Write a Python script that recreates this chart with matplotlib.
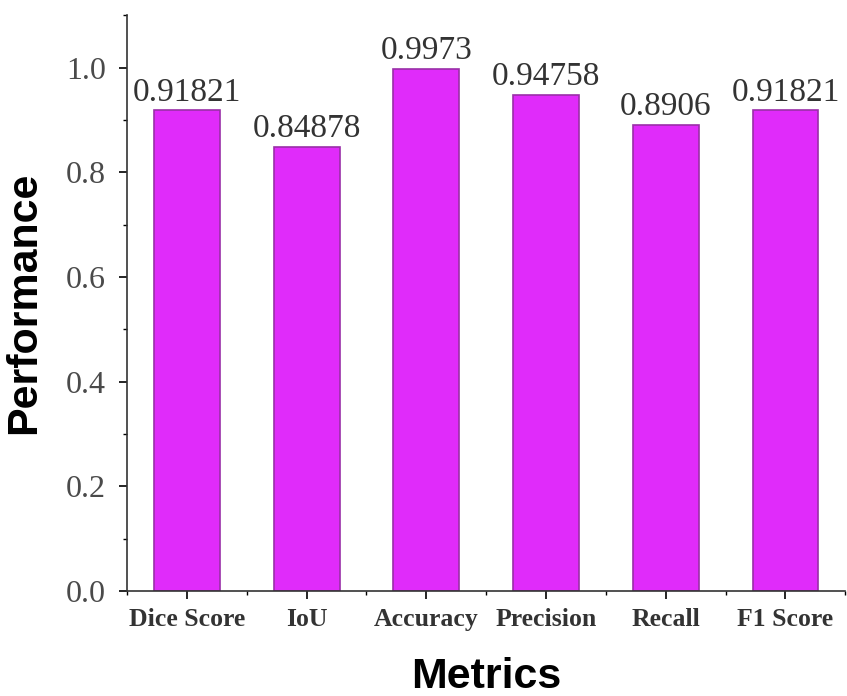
import matplotlib
matplotlib.use("Agg")
import matplotlib.pyplot as plt
from matplotlib.ticker import MultipleLocator, FixedLocator

# chart data
metrics = ["Dice Score", "IoU", "Accuracy", "Precision", "Recall", "F1 Score"]
scores = [0.91821, 0.84878, 0.9973, 0.94758, 0.8906, 0.91821]
score_labels = ["0.91821", "0.84878", "0.9973", "0.94758", "0.8906", "0.91821"]

fig = plt.figure(figsize=(8.47, 6.96), dpi=100)
ax = fig.add_axes([0.150, 0.151, 0.848, 0.827])

x = list(range(len(metrics)))
bars = ax.bar(x, scores, width=0.55, color="#E02BFA", edgecolor="#9A2FA8", linewidth=1.2)

for b, lab in zip(bars, score_labels):
    ax.annotate(lab, (b.get_x() + b.get_width() / 2, b.get_height()),
                xytext=(0, 2), textcoords="offset points",
                ha="center", va="bottom", fontsize=24,
                family="Liberation Serif", color="#333333")

ax.set_xlim(-0.5, 5.5)
ax.set_ylim(0, 1.1)
ax.set_xticks(x)
ax.set_xticklabels(metrics, family="Liberation Serif", fontweight="bold",
                   fontsize=18.5, color="#333333")
ax.xaxis.set_minor_locator(FixedLocator([i + 0.5 for i in range(-1, len(metrics))]))
ax.yaxis.set_minor_locator(MultipleLocator(0.1))
ax.set_yticks([0.0, 0.2, 0.4, 0.6, 0.8, 1.0])
ax.set_yticklabels(["0.0", "0.2", "0.4", "0.6", "0.8", "1.0"],
                   family="Liberation Serif", fontsize=23, color="#4a4a4a")

ax.tick_params(axis="both", which="major", direction="out", length=6, width=1.2)
ax.tick_params(axis="x", which="major", pad=6)
ax.tick_params(axis="y", which="major", pad=9)
ax.tick_params(axis="both", which="minor", direction="out", length=3, width=1.0)

for side in ("top", "right"):
    ax.spines[side].set_visible(False)
for side in ("left", "bottom"):
    ax.spines[side].set_linewidth(1.2)
    ax.spines[side].set_color("#333333")

ax.set_xlabel("Metrics", family="Liberation Sans", fontweight="bold", fontsize=31, labelpad=19)
ax.set_ylabel("Performance", family="Liberation Sans", fontweight="bold", fontsize=31, labelpad=16)

fig.savefig("out.png", dpi=100)
